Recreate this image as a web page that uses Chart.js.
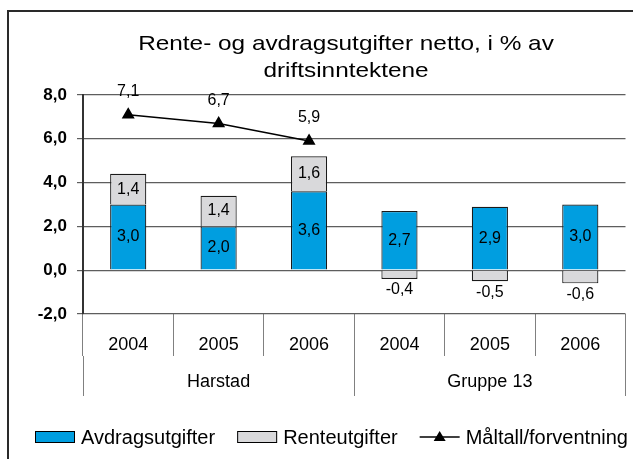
<!DOCTYPE html>
<html lang="no">
<head>
<meta charset="utf-8">
<title>Rente- og avdragsutgifter netto</title>
<script src="https://cdn.jsdelivr.net/npm/chart.js@4.4.1/dist/chart.umd.min.js"></script>
<style>
  html, body { margin: 0; padding: 0; background: #fff; }
</style>
</head>
<body>
<canvas id="graf" width="633" height="459"></canvas>
<script>
// data lest av figuren
const aar = ['2004', '2005', '2006', '2004', '2005', '2006'];
const grupper = ['Harstad', 'Gruppe 13'];
const avdrag = [3.0, 2.0, 3.6, 2.7, 2.9, 3.0];
const renter = [1.4, 1.4, 1.6, -0.4, -0.5, -0.6];
const maltall = [7.1, 6.7, 5.9, null, null, null];
const yTicks = [-2, 0, 2, 4, 6, 8];
const tittel = ['Rente- og avdragsutgifter netto, i % av', 'driftsinntektene'];

const FONT = '"Liberation Sans", Arial, Helvetica, sans-serif';
Chart.defaults.font.family = FONT;
Chart.defaults.color = '#000';

const fmt = v => v.toFixed(1).replace('.', ',');

// ramme og tittel
const rammePlugin = {
  id: 'ramme',
  beforeDraw(chart) {
    const ctx = chart.ctx;
    ctx.save();
    ctx.fillStyle = '#fff';
    ctx.fillRect(0, 0, chart.width, chart.height);
    ctx.strokeStyle = '#2a2a2a';
    ctx.lineWidth = 2;
    ctx.strokeRect(8, 11, chart.width + 40, chart.height + 40);
    // tittelen er litt bred i originalen, strekkes litt horisontalt
    ctx.font = '21px ' + FONT;
    ctx.fillStyle = '#000';
    ctx.textAlign = 'center';
    ctx.textBaseline = 'middle';
    tittel.forEach((linje, i) => {
      ctx.save();
      ctx.translate(346, 44 + i * 27);
      ctx.scale(1.16, 1);
      ctx.fillText(linje, 0, 0);
      ctx.restore();
    });
    ctx.restore();
  }
};

// verdier på søyler og linje
const verdiPlugin = {
  id: 'verdier',
  afterDatasetsDraw(chart) {
    const ctx = chart.ctx;
    ctx.save();
    ctx.font = '16px ' + FONT;
    ctx.fillStyle = '#000';
    ctx.textAlign = 'center';
    ctx.textBaseline = 'middle';
    chart.data.datasets.forEach((ds, i) => {
      const meta = chart.getDatasetMeta(i);
      meta.data.forEach((el, j) => {
        const v = ds.data[j];
        if (v === null || v === undefined) return;
        let y;
        if (ds.type === 'line') y = el.y - 23;
        else if (v < 0) y = el.y + 11;
        else y = (el.y + el.base) / 2;
        ctx.fillText(fmt(v), el.x, y);
      });
    });
    ctx.restore();
  }
};

// egen tegnforklaring nederst
const legendePlugin = {
  id: 'legende',
  afterDraw(chart) {
    const ctx = chart.ctx;
    const y = 437;
    let x = 35;
    ctx.save();
    ctx.font = '20px ' + FONT;
    ctx.textBaseline = 'middle';
    chart.data.datasets.forEach(ds => {
      if (ds.type === 'line') {
        ctx.strokeStyle = ds.borderColor;
        ctx.fillStyle = ds.borderColor;
        ctx.lineWidth = 1.5;
        ctx.beginPath(); ctx.moveTo(x, y); ctx.lineTo(x + 40, y); ctx.stroke();
        ctx.beginPath(); ctx.moveTo(x + 20, y - 6); ctx.lineTo(x + 26, y + 4); ctx.lineTo(x + 14, y + 4); ctx.closePath(); ctx.fill();
      } else {
        ctx.fillStyle = ds.backgroundColor;
        ctx.fillRect(x, y - 6, 40, 12);
        ctx.strokeStyle = '#000';
        ctx.lineWidth = 1;
        ctx.strokeRect(x + 0.5, y - 5.5, 39, 11);
      }
      ctx.fillStyle = '#000';
      ctx.fillText(ds.label, x + 46, y + 1);
      x += 46 + ctx.measureText(ds.label).width + 22;
    });
    ctx.restore();
  }
};

new Chart(document.getElementById('graf'), {
  type: 'bar',
  data: {
    labels: aar,
    datasets: [
      { label: 'Avdragsutgifter', data: avdrag, backgroundColor: '#009ee0', borderColor: '#1a1a1a', borderWidth: 1.2, order: 1 },
      { label: 'Renteutgifter', data: renter, backgroundColor: '#d9d9db', borderColor: '#1a1a1a', borderWidth: 1.2, order: 1 },
      { type: 'line', label: 'Måltall/forventning', data: maltall, borderColor: '#000', backgroundColor: '#000',
        borderWidth: 1.5, pointStyle: 'triangle', pointRadius: 6, pointBackgroundColor: '#000', order: 0 }
    ]
  },
  options: {
    responsive: false,
    animation: false,
    layout: { padding: { left: 0, right: 4, top: 95, bottom: 63 } },
    datasets: { bar: { barPercentage: 0.4, categoryPercentage: 1 } },
    plugins: {
      legend: { display: false },
      tooltip: { enabled: false },
      title: { display: false }
    },
    scales: {
      x: {
        stacked: true,
        weight: 0,
        afterFit: s => { s.height = 42; },
        grid: { offset: true, drawOnChartArea: false, tickLength: 42, color: '#808080' },
        border: { display: false },
        ticks: { padding: -22, font: { size: 18 }, color: '#000', autoSkip: false, maxRotation: 0 }
      },
      x2: {
        type: 'category',
        labels: grupper,
        position: 'bottom',
        weight: 1,
        offset: true,
        afterFit: s => { s.height = 40; },
        grid: { offset: true, drawOnChartArea: false, tickLength: 40, color: '#808080' },
        border: { display: false },
        ticks: { padding: -25, font: { size: 18 }, color: '#000' }
      },
      y: {
        stacked: true,
        min: -2,
        max: 8,
        afterBuildTicks: s => { s.ticks = yTicks.map(v => ({ value: v })); },
        afterFit: s => { s.width = 83; },
        grid: { color: '#5e5e5e', lineWidth: 1.2, tickLength: 6 },
        border: { color: '#333', width: 2 },
        ticks: { padding: 10, font: { size: 17, weight: 'bold' }, color: '#000', callback: v => fmt(v) }
      }
    }
  },
  plugins: [rammePlugin, verdiPlugin, legendePlugin]
});
</script>
</body>
</html>
